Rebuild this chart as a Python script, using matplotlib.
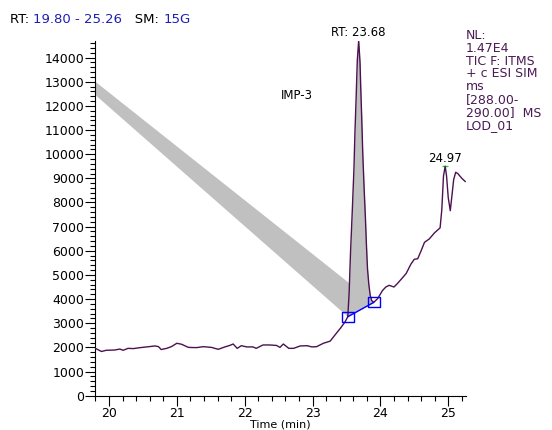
import numpy as np
import matplotlib
matplotlib.use("Agg")
import matplotlib.pyplot as plt
from matplotlib.path import Path
from matplotlib.ticker import MultipleLocator

plt.rcParams["font.family"] = ["DejaVu Sans"]

# chromatogram trace (time in min, intensity)
time_min = [19.80, 19.89, 19.96, 20.08, 20.16, 20.21, 20.28, 20.36, 20.46, 20.56,
            20.68, 20.73, 20.77, 20.85, 20.92, 21.00, 21.07, 21.17, 21.29, 21.39,
            21.51, 21.61, 21.71, 21.78, 21.83, 21.89, 21.95, 22.03, 22.12, 22.17,
            22.27, 22.37, 22.47, 22.52, 22.57, 22.65, 22.72, 22.82, 22.92, 22.99,
            23.06, 23.16, 23.26, 23.33, 23.41, 23.48, 23.52, 23.54, 23.56, 23.585,
            23.61, 23.625, 23.64, 23.66, 23.68, 23.70, 23.71, 23.725, 23.74, 23.76,
            23.78, 23.795, 23.81, 23.83, 23.85, 23.87, 23.90, 23.96, 24.03, 24.08,
            24.13, 24.20, 24.25, 24.30, 24.38, 24.45, 24.50, 24.55, 24.60, 24.65,
            24.72, 24.80, 24.88, 24.905, 24.93, 24.955, 24.975, 25.00, 25.03, 25.055,
            25.08, 25.11, 25.14, 25.20, 25.25]
intensity = [1960, 1830, 1880, 1890, 1930, 1880, 1960, 1950, 1990, 2020,
             2060, 2030, 1910, 1960, 2030, 2170, 2130, 2000, 1990, 2030,
             2000, 1920, 2020, 2080, 2140, 1960, 2070, 2020, 2020, 1960,
             2100, 2100, 2080, 2000, 2140, 1960, 1960, 2060, 2070, 2020,
             2030, 2170, 2260, 2510, 2790, 3060, 3270, 4300, 5940, 7600,
             9370, 10900, 12120, 13900, 14700, 13800, 12800, 11500, 10060, 8600,
             7320, 6200, 5260, 4600, 4160, 3950, 3860, 4020, 4350, 4500,
             4570, 4500, 4640, 4800, 5060, 5450, 5650, 5670, 6000, 6350,
             6490, 6750, 6950, 7700, 9100, 9500, 9100, 8200, 7660, 8300,
             8950, 9250, 9200, 9000, 8870]

# integration baseline end points (boxes)
box_t = [23.52, 23.90]
box_v = [3270, 3860]

# grey link band (time, intensity corners)
band_t = [19.80, 23.90, 23.52, 19.80]
band_v = [13000, 3860, 3270, 12450]

peak1 = (23.68, 14700)
peak2 = (24.955, 9500)

right_info = "NL:\n1.47E4\nTIC F: ITMS\n+ c ESI SIM\nms\n[288.00-\n290.00]  MS\nLOD_01"

trace_col = "#4b1150"
blue = "#1f1fb0"

fig = plt.figure(figsize=(5.52, 4.30), dpi=100)
ax = fig.add_axes([0.1728, 0.0798, 0.6712, 0.8256])

t = np.array(time_min)
v = np.array(intensity)

ax.fill(band_t, band_v, color="#c0c0c0", lw=0, zorder=1)
m = (t >= box_t[0]) & (t <= box_t[1])
ax.fill_between(t[m], v[m], np.interp(t[m], box_t, box_v), color="#c0c0c0", lw=0, zorder=1)
ax.plot(t, v, color=trace_col, lw=1.0, zorder=3)

rect = Path([(-1.25, -1), (1.25, -1), (1.25, 1), (-1.25, 1), (-1.25, -1)], closed=True)
ax.plot(box_t, box_v, color="blue", lw=1.0, marker=rect, markersize=8.6,
        markerfacecolor="none", markeredgecolor="blue", markeredgewidth=1.0, zorder=4)
ax.plot([peak2[0]], [peak2[1]], marker="_", color="#33cc33", markersize=5, zorder=2)

ax.annotate("RT: 23.68", xy=peak1, xytext=(0, 1), textcoords="offset points",
            ha="center", va="bottom", fontsize=8.5, annotation_clip=False)
ax.annotate("24.97", xy=peak2, xytext=(0, 1), textcoords="offset points",
            ha="center", va="bottom", fontsize=8.5, annotation_clip=False)
ax.text(0.544, 0.845, "IMP-3", transform=ax.transAxes, ha="center", va="center", fontsize=8.5)

ax.set_xlim(19.80, 25.26)
ax.set_ylim(0, 14700)
ax.xaxis.set_major_locator(MultipleLocator(1))
ax.xaxis.set_minor_locator(MultipleLocator(0.2))
ax.yaxis.set_major_locator(MultipleLocator(1000))
ax.yaxis.set_minor_locator(MultipleLocator(200))
ax.tick_params(which="major", direction="out", length=7, width=0.8, labelsize=9, pad=1)
ax.tick_params(which="minor", direction="out", length=3.5, width=0.8)
for s in ["top", "right"]:
    ax.spines[s].set_visible(False)
ax.set_xlabel("Time (min)", fontsize=8, labelpad=0)

# header text, mixed colours
parts = [("RT: ", "black"), ("19.80 - 25.26", blue), ("   SM: ", "black"), ("15G", blue)]
prev = fig.text(10 / 552, 1 - 22.7 / 430, parts[0][0], color=parts[0][1], fontsize=9.5, va="baseline")
for txt, col in parts[1:]:
    prev = ax.annotate(txt, xy=(1, 0), xycoords=prev, xytext=(0, 0), textcoords="offset points",
                       color=col, fontsize=9.5, va="bottom", annotation_clip=False)

fig.text(465.7 / 552, 1 - 29 / 430, right_info, color="#4b1a55", fontsize=9,
         va="top", ha="left", linespacing=0.98)

fig.savefig("out.png", dpi=100)
